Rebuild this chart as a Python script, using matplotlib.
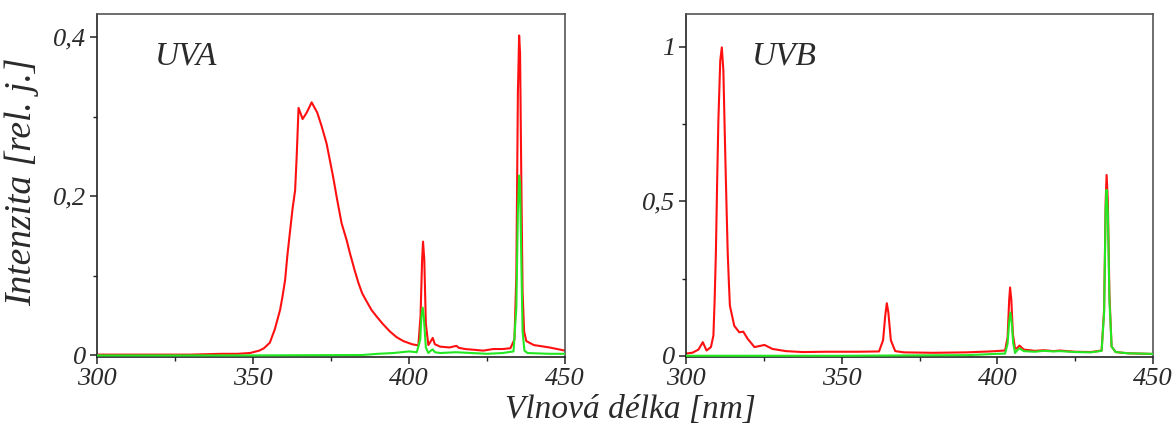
import matplotlib.pyplot as plt
from matplotlib.ticker import FixedLocator, FuncFormatter

# UVA lamp spectrum (red) and filtered spectrum (green)
uva_red_wl = [300, 310, 320, 330, 340, 345, 349, 352, 353.5, 355.4, 357, 358.7, 359.5, 360.3, 361, 361.9,
              362.7, 363.5, 364.0, 364.6, 365.9, 367.2, 368.8, 370.6, 372, 373.6, 375.7, 377, 378.4, 380,
              381.1, 382.5, 383.8, 385, 386.4, 388, 389.6, 391.5, 393.9, 396, 398.2,
              401, 403, 403.7, 404.2, 404.5, 404.9, 405.4, 406.2, 407.0, 407.6, 408.3, 410, 413, 415.2,
              416, 418, 421, 423.8, 427, 430, 432.5, 433.8, 434.4, 434.9, 435.3, 435.6, 436.0, 436.4,
              436.9, 437.6, 440, 445, 450]
uva_red = [0.001, 0.001, 0.001, 0.001, 0.002, 0.002, 0.003, 0.006, 0.009, 0.016, 0.033, 0.0575, 0.075, 0.095,
           0.125, 0.157, 0.185, 0.2075, 0.25, 0.311, 0.297, 0.305, 0.318, 0.305, 0.288, 0.266, 0.224, 0.195,
           0.166, 0.145, 0.128, 0.108, 0.091, 0.078, 0.068, 0.057, 0.049, 0.040, 0.030, 0.023, 0.018,
           0.014, 0.0125, 0.05, 0.12, 0.143, 0.12, 0.04, 0.013, 0.018, 0.022, 0.014, 0.011, 0.010, 0.012,
           0.0095, 0.008, 0.007, 0.006, 0.008, 0.008, 0.009, 0.02, 0.10, 0.33, 0.402, 0.38, 0.22, 0.08,
           0.03, 0.018, 0.013, 0.010, 0.006]

uva_green_wl = [300, 350, 385, 390, 395, 400, 402.5, 403.6, 404.0, 404.4, 404.8, 405.4, 406.2, 407.0, 407.6,
                408.3, 410, 415, 420, 425, 430, 433.5, 434.4, 434.9, 435.3, 435.6, 436.0, 436.4, 437.0,
                438, 445, 450]
uva_green = [0.0, 0.0, 0.0005, 0.002, 0.003, 0.005, 0.004, 0.02, 0.05, 0.06, 0.045, 0.01, 0.003, 0.006, 0.0075,
             0.004, 0.003, 0.004, 0.003, 0.002, 0.003, 0.005, 0.06, 0.18, 0.226, 0.215, 0.12, 0.03, 0.006,
             0.003, 0.002, 0.002]

# UVB lamp spectrum (red) and filtered spectrum (green)
uvb_red_wl = [300, 302.1, 304, 305.4, 306.6, 308.0, 308.8, 309.2, 309.6, 310.0, 310.4, 311.0, 311.5, 312.0,
              312.6, 313.0, 313.4, 313.8, 314.1, 315.5, 317.1, 318.4, 319.8, 322, 325.2, 327.8, 332.1,
              337.5, 345, 355, 362, 363.3, 364.0, 364.5, 365.0, 365.8, 367.2, 370, 379.4, 390, 397.7,
              402.5, 403.3, 403.8, 404.1, 404.5, 405.0, 405.7, 406.4, 407.1, 408.5, 412, 415, 418, 420,
              425, 430, 433.5, 434.3, 434.8, 435.1, 435.5, 436.0, 436.7, 438, 442, 449.6, 450]
uvb_red = [0.007, 0.01, 0.02, 0.044, 0.017, 0.028, 0.065, 0.18, 0.333, 0.56, 0.762, 0.955, 0.998, 0.923,
           0.655, 0.49, 0.333, 0.23, 0.162, 0.097, 0.076, 0.078, 0.055, 0.028, 0.035, 0.022, 0.015,
           0.012, 0.013, 0.013, 0.014, 0.05, 0.13, 0.17, 0.14, 0.05, 0.015, 0.011, 0.0096, 0.011, 0.014,
           0.017, 0.06, 0.18, 0.221, 0.18, 0.07, 0.0225, 0.025, 0.033, 0.02, 0.016, 0.018, 0.015, 0.017,
           0.013, 0.012, 0.017, 0.15, 0.5, 0.585, 0.5, 0.2, 0.03, 0.012, 0.008, 0.006, 0.006]

uvb_green_wl = [300, 350, 390, 395, 399, 402.5, 403.3, 403.8, 404.2, 404.6, 405.1, 405.7, 406.4, 407.1, 408.5,
                412, 415, 418, 420, 425, 430, 433.5, 434.3, 434.8, 435.1, 435.5, 436.0, 436.7, 438, 442, 450]
uvb_green = [0.0, 0.0, 0.002, 0.004, 0.006, 0.007, 0.04, 0.11, 0.14, 0.11, 0.04, 0.009, 0.018, 0.024, 0.015,
             0.013, 0.016, 0.014, 0.015, 0.012, 0.011, 0.016, 0.14, 0.48, 0.537, 0.46, 0.18, 0.03, 0.012,
             0.008, 0.006]

x_major = [300, 350, 400, 450]
x_minor = [325, 375, 425]
uva_yticks = [0, 0.2, 0.4]
uva_yminor = [0.1, 0.3]
uvb_yticks = [0, 0.5, 1]
uvb_yminor = [0.25, 0.75]

RED = '#ff1010'
GREEN = '#22e822'
TXT = '#2a2a2a'
FONT = 'Liberation Serif'

plt.rcParams['font.family'] = FONT
plt.rcParams['font.style'] = 'italic'


def comma(v, pos):
    s = ('%g' % v).replace('.', ',')
    return s


def style_axes(ax, yticks, yminor, ylim, label, label_x):
    ax.set_xlim(300, 450)
    ax.set_ylim(*ylim)
    ax.xaxis.set_major_locator(FixedLocator(x_major))
    ax.xaxis.set_minor_locator(FixedLocator(x_minor))
    ax.yaxis.set_major_locator(FixedLocator(yticks))
    ax.yaxis.set_minor_locator(FixedLocator(yminor))
    ax.yaxis.set_major_formatter(FuncFormatter(comma))
    ax.tick_params(which='major', direction='out', length=5, width=1.1, color='#222222',
                   labelsize=19, labelcolor=TXT, pad=3)
    ax.tick_params(which='minor', direction='out', length=3, width=1.0, color='#222222')
    for lab in ax.get_xticklabels() + ax.get_yticklabels():
        lab.set_fontstyle('italic')
        lab.set_family(FONT)
    for side in ['left', 'bottom']:
        ax.spines[side].set_color('#222222')
        ax.spines[side].set_linewidth(1.2)
    for side in ['top', 'right']:
        ax.spines[side].set_color('#555555')
        ax.spines[side].set_linewidth(1.2)
    ax.text(label_x, 0.877, label, transform=ax.transAxes, fontsize=24, color=TXT,
            style='italic', family=FONT, ha='left', va='center')


fig = plt.figure(figsize=(11.74, 4.26), dpi=100)
ax1 = fig.add_axes([97 / 1174, 69 / 426, 468 / 1174, 343 / 426])
ax2 = fig.add_axes([686 / 1174, 69 / 426, 467 / 1174, 343 / 426])

ax1.plot(uva_red_wl, uva_red, color=RED, lw=1.5, zorder=2)
ax1.plot(uva_green_wl, uva_green, color=GREEN, lw=1.5, zorder=3)
style_axes(ax1, uva_yticks, uva_yminor, (-0.002, 0.429), 'UVA', 0.124)

ax2.plot(uvb_red_wl, uvb_red, color=RED, lw=1.5, zorder=2)
ax2.plot(uvb_green_wl, uvb_green, color=GREEN, lw=1.5, zorder=3)
style_axes(ax2, uvb_yticks, uvb_yminor, (-0.004, 1.106), 'UVB', 0.141)

fig.text(630 / 1174, 1 - 410 / 426, 'Vlnová délka [nm]', fontsize=24, color=TXT,
         style='italic', family=FONT, ha='center', va='center')
fig.text(22 / 1174, 1 - 182 / 426, 'Intenzita [rel. j.]', fontsize=27, color=TXT,
         style='italic', family=FONT, ha='center', va='center', rotation=90)

fig.savefig('out.png', dpi=100)
